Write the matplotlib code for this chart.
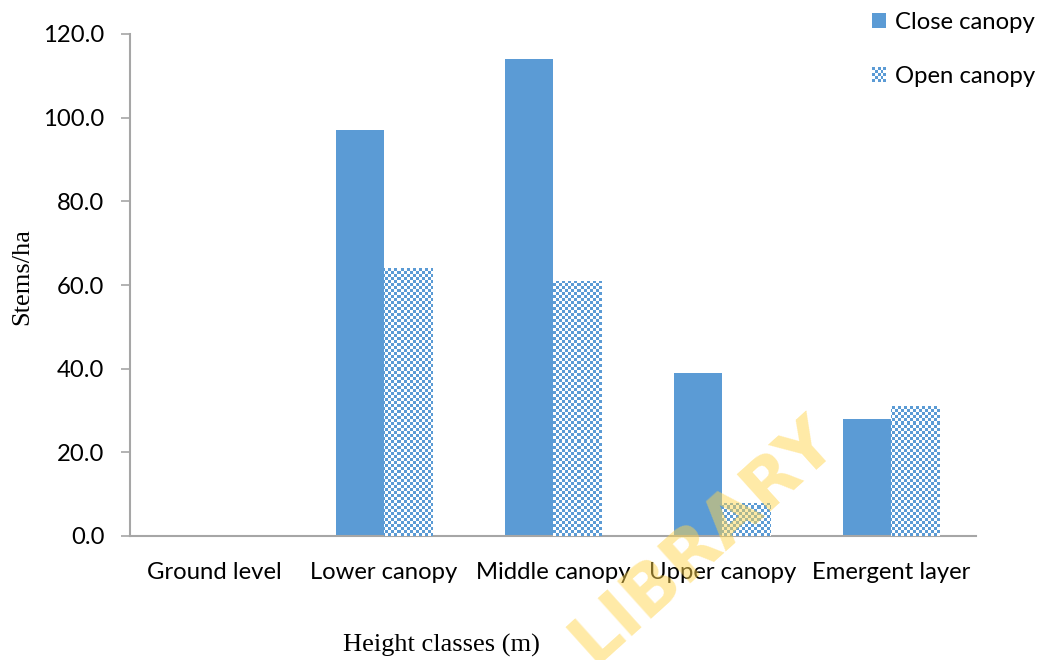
import numpy as np
import matplotlib
matplotlib.use("Agg")
import matplotlib.pyplot as plt
from matplotlib.patches import Rectangle, Patch
from matplotlib.legend_handler import HandlerBase

categories = ["Ground level", "Lower canopy", "Middle canopy", "Upper canopy", "Emergent layer"]
close_canopy = [0, 97, 114, 39, 28]
open_canopy = [0, 64, 61, 8, 31]
series_names = ["Close canopy", "Open canopy"]
y_ticks = [0, 20, 40, 60, 80, 100, 120]

BLUE = "#5B9BD5"
TICKF = "Lato"
SERIF = "Liberation Serif"
FS = 17.2

W, H = 1045, 660
fig = plt.figure(figsize=(W / 100, H / 100), dpi=100)
L, R, T, B = 130, 976, 34, 536
ax = fig.add_axes([L / W, 1 - B / H, (R - L) / W, (B - T) / H])

x = np.arange(len(categories))
bw = 0.284
ax.bar(x - bw / 2, close_canopy, width=bw, color=BLUE, edgecolor="none", zorder=2)
open_bars = ax.bar(x + bw / 2, open_canopy, width=bw, color="white", edgecolor="none", zorder=2)

# checkerboard texture clipped to each open-canopy bar
cell = 3
nx, ny = (R - L) // cell, (B - T) // cell
ii, jj = np.meshgrid(np.arange(nx), np.arange(ny))
mask = (ii + jj) % 2 == 0
rgb = np.ones((ny, nx, 3))
blue_rgb = np.array(matplotlib.colors.to_rgb(BLUE))
rgb[mask] = blue_rgb
for p in open_bars.patches:
    if p.get_height() <= 0:
        continue
    im = ax.imshow(rgb, extent=[0, 1, 0, 1], transform=ax.transAxes, aspect="auto",
                   interpolation="nearest", zorder=3)
    im.set_clip_path(p)

ax.set_xlim(-0.5, len(categories) - 0.5)
ax.set_ylim(0, 120)
ax.set_yticks(y_ticks)
ax.set_yticklabels([f"{v:.1f}" for v in y_ticks], fontfamily=TICKF, fontsize=FS)
ax.set_xticks(x)
ax.set_xticklabels(categories, fontfamily=TICKF, fontsize=FS)
ax.tick_params(axis="x", length=0, pad=19)
ax.tick_params(axis="y", length=6.5, width=1.2, color="#A6A6A6", pad=12)
for s in ["top", "right"]:
    ax.spines[s].set_visible(False)
for s in ["left", "bottom"]:
    ax.spines[s].set_color("#A6A6A6")
    ax.spines[s].set_linewidth(1.5)
ax.set_zorder(1)

fig.text(22 / W, 1 - 277 / H, "Stems/ha", rotation=90, ha="center", va="center",
         fontfamily=SERIF, fontsize=19)
fig.text(441 / W, 1 - 645 / H, "Height classes (m)", ha="center", va="center",
         fontfamily=SERIF, fontsize=19)


class CheckerHandler(HandlerBase):
    def create_artists(self, legend, orig_handle, xdescent, ydescent, width, height, fontsize, trans):
        s = min(width, height)
        x0 = -xdescent + (width - s) / 2
        y0 = -ydescent + (height - s) / 2
        n = 5
        c = s / n
        arts = []
        for i in range(n):
            for j in range(n):
                col = BLUE if (i + j) % 2 == 0 else "white"
                arts.append(Rectangle((x0 + i * c, y0 + j * c), c, c, facecolor=col,
                                      edgecolor="none", transform=trans))
        return arts


h1 = Patch(facecolor=BLUE, edgecolor="none")
h2 = Patch(facecolor="white", edgecolor="none")
leg = fig.legend([h1, h2], series_names, loc="upper left",
                 bbox_to_anchor=(872 / W, 1 - 12 / H), frameon=False,
                 borderpad=0, borderaxespad=0,
                 prop={"family": TICKF, "size": FS}, labelspacing=1.38,
                 handlelength=0.6, handleheight=0.6, handletextpad=0.35,
                 handler_map={h2: CheckerHandler()})

fig.text(703 / W, 1 - 540 / H, "LIBRARY", rotation=42, ha="center", va="center",
         fontsize=50, fontweight="bold", color="#FFD54F", alpha=0.5, zorder=10)

fig.savefig("out.png", dpi=100)
